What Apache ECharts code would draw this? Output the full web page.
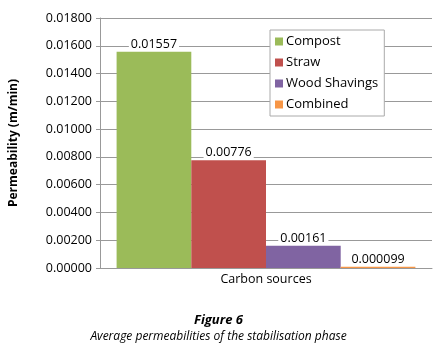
<!DOCTYPE html>
<html>
<head>
<meta charset="utf-8">
<script src="https://cdn.jsdelivr.net/npm/echarts@6/dist/echarts.min.js"></script>
<style>
html,body{margin:0;padding:0;background:#fff;}
#main{width:437px;height:351px;}
</style>
</head>
<body>
<div id="main"></div>
<script>
var categories = ['Carbon sources'];
var seriesNames = ['Compost', 'Straw', 'Wood Shavings', 'Combined'];
var seriesValues = [0.01557, 0.00776, 0.00161, 0.000099];
var valueLabels = ['0.01557', '0.00776', '0.00161', '0.000099'];
var colors = ['#9BBB59', '#C0504D', '#8064A2', '#F79646'];

var font = '"Open Sans", "Noto Sans", sans-serif';
var myChart = echarts.init(document.getElementById('main'));

var series = [];
for (var i = 0; i < seriesNames.length; i++) {
	series.push({
		name: seriesNames[i],
		type: 'bar',
		data: [seriesValues[i]],
		itemStyle: {color: colors[i]},
		barGap: '0%',
		barCategoryGap: '10%',
		label: {
			show: true,
			position: 'top',
			distance: 1,
			formatter: (function (t) { return function () { return t; }; })(valueLabels[i]),
			color: '#000',
			fontFamily: font,
			fontSize: 12.5,
			backgroundColor: '#fff',
			padding: [0, 2]
		}
	});
}

var option = {
	animation: false,
	color: colors,
	grid: {left: 98, right: 5, top: 18, bottom: 83},
	legend: {
		orient: 'vertical',
		left: 270,
		top: 30,
		width: 114,
		icon: 'rect',
		itemWidth: 8,
		itemHeight: 8,
		itemGap: 4,
		padding: [3, 6, 3, 5],
		backgroundColor: '#fff',
		borderColor: '#aaa',
		borderWidth: 1,
		textStyle: {fontFamily: font, fontSize: 13, color: '#000', padding: [0, 0, 0, -2], lineHeight: 17},
		data: seriesNames
	},
	xAxis: {
		type: 'category',
		data: categories,
		axisLine: {lineStyle: {color: '#999'}},
		axisTick: {show: false},
		axisLabel: {fontFamily: font, fontSize: 12.5, color: '#000', margin: 5}
	},
	yAxis: {
		type: 'value',
		min: 0,
		max: 0.018,
		interval: 0.002,
		name: 'Permeability (m/min)',
		nameLocation: 'middle',
		nameGap: 80,
		nameTextStyle: {fontFamily: font, fontSize: 12, fontWeight: 'bold', color: '#000'},
		axisLine: {show: true, lineStyle: {color: '#999'}},
		axisTick: {show: true, length: 4, lineStyle: {color: '#999'}},
		splitLine: {lineStyle: {color: '#999'}},
		axisLabel: {
			fontFamily: font, fontSize: 12.5, color: '#000', margin: 8,
			formatter: function (v) { return v.toFixed(5); }
		}
	},
	graphic: [
		{type: 'text', left: 'center', top: 314, style: {text: 'Figure 6', font: 'italic bold 13px ' + font, fill: '#000'}},
		{type: 'text', left: 'center', top: 331, style: {text: 'Average permeabilities of the stabilisation phase', font: 'italic 12px ' + font, fill: '#000'}}
	],
	series: series
};
myChart.setOption(option);
</script>
</body>
</html>
